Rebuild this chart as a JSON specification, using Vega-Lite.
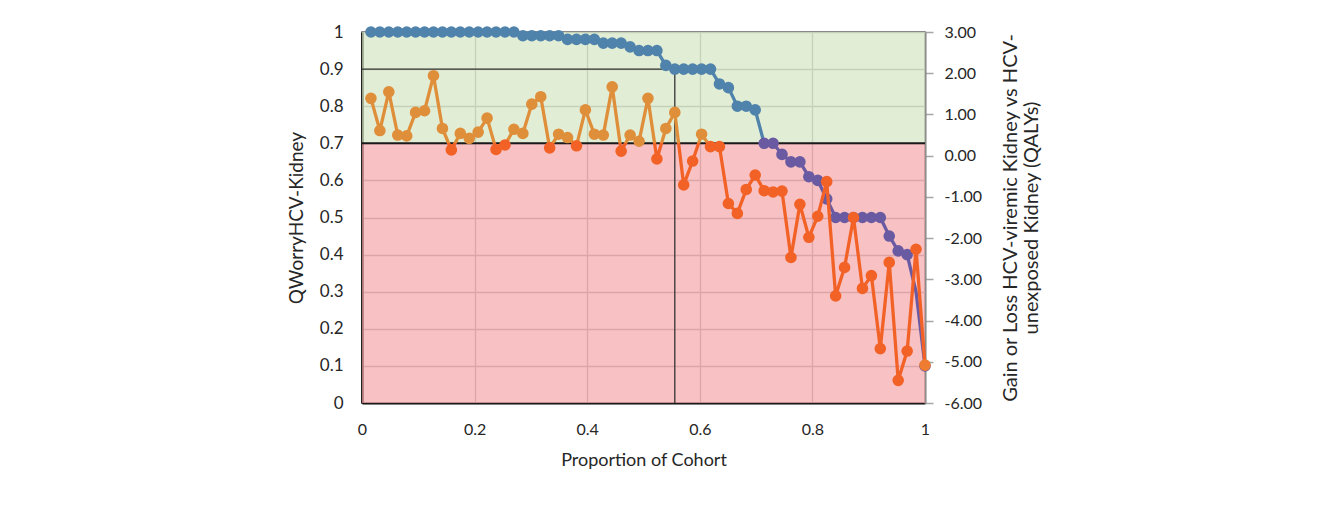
{
  "$schema": "https://vega.github.io/schema/vega-lite/v6.json",
  "width": 563,
  "height": 371,
  "autosize": {"type": "none"},
  "padding": {"left": 362, "top": 32, "right": 405, "bottom": 111},
  "background": "white",
  "config": {
    "font": "Lato",
    "view": {"stroke": "#595959", "strokeWidth": 1.5},
    "axis": {
      "labelFont": "Lato",
      "titleFont": "Lato",
      "labelColor": "#262626",
      "titleColor": "#262626",
      "labelFontSize": 16,
      "titleFontSize": 18,
      "titleFontWeight": "normal",
      "labelOverlap": false,
      "labelFlush": false,
      "ticks": false,
      "grid": false
    }
  },
  "datasets": {
    "cohort": [
      {"i": 1, "p": 0.0159, "q": 1.00, "g": 1.39},
      {"i": 2, "p": 0.0317, "q": 1.00, "g": 0.61},
      {"i": 3, "p": 0.0476, "q": 1.00, "g": 1.55},
      {"i": 4, "p": 0.0635, "q": 1.00, "g": 0.50},
      {"i": 5, "p": 0.0794, "q": 1.00, "g": 0.48},
      {"i": 6, "p": 0.0952, "q": 1.00, "g": 1.05},
      {"i": 7, "p": 0.1111, "q": 1.00, "g": 1.09},
      {"i": 8, "p": 0.1270, "q": 1.00, "g": 1.94},
      {"i": 9, "p": 0.1429, "q": 1.00, "g": 0.66},
      {"i": 10, "p": 0.1587, "q": 1.00, "g": 0.14},
      {"i": 11, "p": 0.1746, "q": 1.00, "g": 0.54},
      {"i": 12, "p": 0.1905, "q": 1.00, "g": 0.42},
      {"i": 13, "p": 0.2063, "q": 1.00, "g": 0.57},
      {"i": 14, "p": 0.2222, "q": 1.00, "g": 0.91},
      {"i": 15, "p": 0.2381, "q": 1.00, "g": 0.15},
      {"i": 16, "p": 0.2540, "q": 1.00, "g": 0.26},
      {"i": 17, "p": 0.2698, "q": 1.00, "g": 0.64},
      {"i": 18, "p": 0.2857, "q": 0.99, "g": 0.54},
      {"i": 19, "p": 0.3016, "q": 0.99, "g": 1.25},
      {"i": 20, "p": 0.3175, "q": 0.99, "g": 1.43},
      {"i": 21, "p": 0.3333, "q": 0.99, "g": 0.19},
      {"i": 22, "p": 0.3492, "q": 0.99, "g": 0.52},
      {"i": 23, "p": 0.3651, "q": 0.98, "g": 0.44},
      {"i": 24, "p": 0.3810, "q": 0.98, "g": 0.24},
      {"i": 25, "p": 0.3968, "q": 0.98, "g": 1.11},
      {"i": 26, "p": 0.4127, "q": 0.98, "g": 0.52},
      {"i": 27, "p": 0.4286, "q": 0.97, "g": 0.50},
      {"i": 28, "p": 0.4444, "q": 0.97, "g": 1.67},
      {"i": 29, "p": 0.4603, "q": 0.97, "g": 0.11},
      {"i": 30, "p": 0.4762, "q": 0.96, "g": 0.50},
      {"i": 31, "p": 0.4921, "q": 0.95, "g": 0.35},
      {"i": 32, "p": 0.5079, "q": 0.95, "g": 1.39},
      {"i": 33, "p": 0.5238, "q": 0.95, "g": -0.08},
      {"i": 34, "p": 0.5397, "q": 0.91, "g": 0.66},
      {"i": 35, "p": 0.5556, "q": 0.90, "g": 1.05},
      {"i": 36, "p": 0.5714, "q": 0.90, "g": -0.71},
      {"i": 37, "p": 0.5873, "q": 0.90, "g": -0.13},
      {"i": 38, "p": 0.6032, "q": 0.90, "g": 0.52},
      {"i": 39, "p": 0.6190, "q": 0.90, "g": 0.22},
      {"i": 40, "p": 0.6349, "q": 0.86, "g": 0.22},
      {"i": 41, "p": 0.6508, "q": 0.85, "g": -1.16},
      {"i": 42, "p": 0.6667, "q": 0.80, "g": -1.40},
      {"i": 43, "p": 0.6825, "q": 0.80, "g": -0.82},
      {"i": 44, "p": 0.6984, "q": 0.79, "g": -0.47},
      {"i": 45, "p": 0.7143, "q": 0.70, "g": -0.85},
      {"i": 46, "p": 0.7302, "q": 0.70, "g": -0.88},
      {"i": 47, "p": 0.7460, "q": 0.67, "g": -0.86},
      {"i": 48, "p": 0.7619, "q": 0.65, "g": -2.47},
      {"i": 49, "p": 0.7778, "q": 0.65, "g": -1.18},
      {"i": 50, "p": 0.7937, "q": 0.61, "g": -1.98},
      {"i": 51, "p": 0.8095, "q": 0.60, "g": -1.47},
      {"i": 52, "p": 0.8254, "q": 0.55, "g": -0.63},
      {"i": 53, "p": 0.8413, "q": 0.50, "g": -3.40},
      {"i": 54, "p": 0.8571, "q": 0.50, "g": -2.71},
      {"i": 55, "p": 0.8730, "q": 0.50, "g": -1.50},
      {"i": 56, "p": 0.8889, "q": 0.50, "g": -3.22},
      {"i": 57, "p": 0.9048, "q": 0.50, "g": -2.91},
      {"i": 58, "p": 0.9206, "q": 0.50, "g": -4.68},
      {"i": 59, "p": 0.9365, "q": 0.45, "g": -2.59},
      {"i": 60, "p": 0.9524, "q": 0.41, "g": -5.45},
      {"i": 61, "p": 0.9683, "q": 0.40, "g": -4.74},
      {"i": 62, "p": 0.9841, "q": 0.30, "g": -2.27},
      {"i": 63, "p": 1.0000, "q": 0.10, "g": -5.08}
    ]
  },
  "layer": [
    {
      "layer": [
        {
          "data": {"values": [{}]},
          "mark": {"type": "rect", "color": "#D6E5C3", "opacity": 0.7},
          "encoding": {
            "x": {
              "datum": 0, "type": "quantitative",
              "scale": {"domain": [0, 1], "nice": false},
              "axis": {
                "values": [0, 0.2, 0.4, 0.6, 0.8, 1],
                "format": "~g",
                "grid": true,
                "gridColor": "#A0A0A0",
                "gridWidth": 1.3,
                "domainColor": "#1A1A1A",
                "domainWidth": 2,
                "labelOverlap": false,
                "labelFlush": false,
                "labelPadding": 18,
                "titlePadding": 14,
                "title": "Proportion of Cohort"
              }
            },
            "x2": {"datum": 1},
            "y": {
              "datum": 0.7, "type": "quantitative",
              "scale": {"domain": [0, 1], "nice": false},
              "axis": {
                "orient": "left",
                "values": [0, 0.1, 0.2, 0.3, 0.4, 0.5, 0.6, 0.7, 0.8, 0.9, 1],
                "tickCount": 11,
                "labelExpr": "format(datum.value, '~g')",
                "grid": true,
                "gridColor": "#A0A0A0",
                "gridWidth": 1.3,
                "domainColor": "#000000",
                "domainWidth": 2.5,
                "labelOverlap": false,
                "labelFlush": false,
                "labelFontSize": 17,
                "labelPadding": 19,
                "titlePadding": 13,
                "titleFontSize": 19,
                "title": "QWorryHCV-Kidney"
              }
            },
            "y2": {"datum": 1}
          }
        },
        {
          "data": {"values": [{}]},
          "mark": {"type": "rect", "color": "#F5A6A9", "opacity": 0.7},
          "encoding": {
            "x": {"datum": 0, "type": "quantitative"},
            "x2": {"datum": 1},
            "y": {"datum": 0, "type": "quantitative"},
            "y2": {"datum": 0.7}
          }
        },
        {
          "data": {"values": [{}]},
          "mark": {"type": "rule", "color": "#1A1A1A", "strokeWidth": 2},
          "encoding": {
            "x": {"datum": 0, "type": "quantitative"},
            "x2": {"datum": 1},
            "y": {"datum": 0.7, "type": "quantitative"}
          }
        },
        {
          "data": {"values": [{}]},
          "mark": {"type": "rule", "color": "#333333", "strokeWidth": 1.3},
          "encoding": {
            "x": {"datum": 0, "type": "quantitative"},
            "x2": {"datum": 0.5556},
            "y": {"datum": 0.9, "type": "quantitative"}
          }
        },
        {
          "data": {"values": [{}]},
          "mark": {"type": "rule", "color": "#333333", "strokeWidth": 1.3},
          "encoding": {
            "x": {"datum": 0.5556, "type": "quantitative"},
            "y": {"datum": 0, "type": "quantitative"},
            "y2": {"datum": 0.9}
          }
        },
        {
          "data": {"name": "cohort"},
          "mark": {
            "type": "line",
            "strokeWidth": 3.3,
            "stroke": {
              "gradient": "linear",
              "x1": 0, "y1": 0, "x2": 0, "y2": 1,
              "stops": [
                {"offset": 0, "color": "#4F83AC"},
                {"offset": 0.3333, "color": "#4F83AC"},
                {"offset": 0.3334, "color": "#6A5AA2"},
                {"offset": 1, "color": "#6A5AA2"}
              ]
            }
          },
          "encoding": {
            "x": {"field": "p", "type": "quantitative"},
            "y": {"field": "q", "type": "quantitative"},
            "order": {"field": "p"}
          }
        },
        {
          "data": {"name": "cohort"},
          "mark": {"type": "circle", "size": 135, "opacity": 1},
          "encoding": {
            "x": {"field": "p", "type": "quantitative"},
            "y": {"field": "q", "type": "quantitative"},
            "color": {
              "condition": {"test": "datum.q > 0.7", "value": "#4F83AC"},
              "value": "#6A5AA2"
            },
            "opacity": {
              "condition": {"test": "datum.i == 62", "value": 0},
              "value": 1
            }
          }
        }
      ]
    },
    {
      "data": {"name": "cohort"},
      "layer": [
        {
          "mark": {
            "type": "line",
            "strokeWidth": 3.3,
            "stroke": {
              "gradient": "linear",
              "x1": 0, "y1": 0, "x2": 0, "y2": 1,
              "stops": [
                {"offset": 0, "color": "#DF8E3A"},
                {"offset": 0.2219, "color": "#DF8E3A"},
                {"offset": 0.222, "color": "#F26226"},
                {"offset": 1, "color": "#F26226"}
              ]
            }
          },
          "encoding": {
            "x": {"field": "p", "type": "quantitative"},
            "y": {
              "field": "g", "type": "quantitative",
              "scale": {"domain": [-6, 3], "nice": false},
              "axis": {
                "orient": "right",
                "values": [-6, -5, -4, -3, -2, -1, 0, 1, 2, 3],
                "format": ".2f",
                "labelExpr": "replace(datum.label, '\u2212', '-')",
                "labelOverlap": false,
                "labelFlush": false,
                "ticks": true,
                "tickColor": "#A6A6A6",
                "tickSize": 8,
                "tickWidth": 1.5,
                "domainColor": "#8C8C8C",
                "domainWidth": 2,
                "labelPadding": 11,
                "grid": false,
                "titleAngle": 270,
                "titlePadding": 18,
                "titleFontSize": 20,
                "titleLineHeight": 21,
                "title": ["Gain or Loss HCV-viremic Kidney vs HCV-", "unexposed Kidney (QALYs)"]
              }
            },
            "order": {"field": "p"}
          }
        },
        {
          "mark": {"type": "circle", "size": 135, "opacity": 1},
          "encoding": {
            "x": {"field": "p", "type": "quantitative"},
            "y": {"field": "g", "type": "quantitative"},
            "color": {
              "condition": [
                {"test": "datum.i == 63", "value": "#EE7D31"},
                {"test": "datum.g > 0.3", "value": "#DF8E3A"}
              ],
              "value": "#F26226"
            }
          }
        }
      ]
    }
  ],
  "resolve": {"scale": {"y": "independent"}}
}
